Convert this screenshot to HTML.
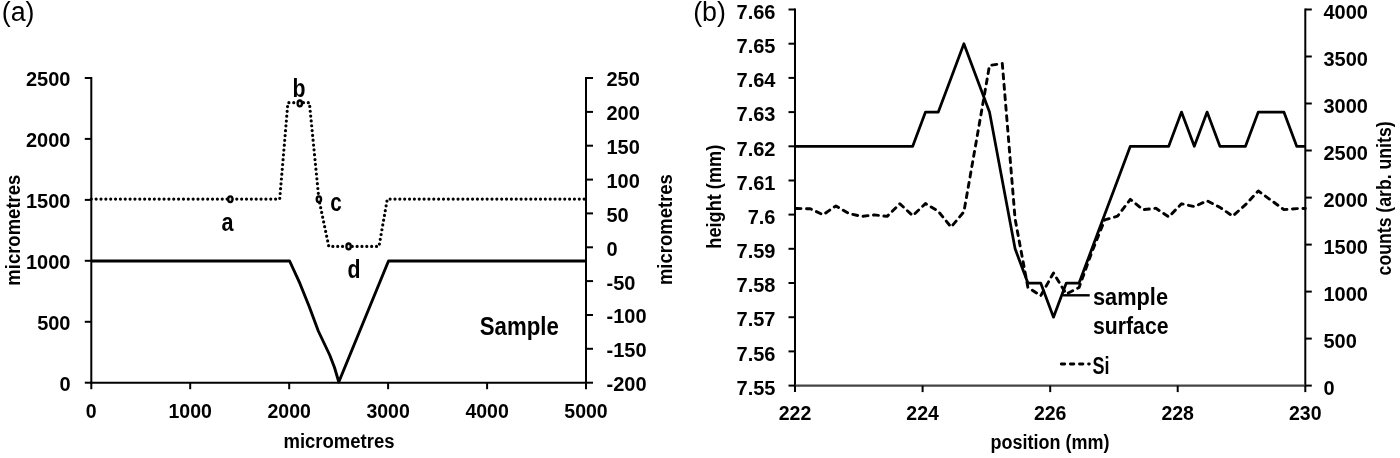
<!DOCTYPE html>
<html><head><meta charset="utf-8"><title>Figure</title>
<style>html,body{margin:0;padding:0;background:#fff;width:1400px;height:458px;overflow:hidden}
text{font-family:"Liberation Sans", sans-serif;fill:#000}</style></head>
<body><div style="will-change:transform;width:1400px;height:458px;background:#fff"><svg width="1400" height="458" viewBox="0 0 1400 458" style="display:block"><line x1="91.3" y1="77.0" x2="91.3" y2="383.7" stroke="#000" stroke-width="2" />
<line x1="586.0" y1="77.0" x2="586.0" y2="383.7" stroke="#000" stroke-width="2" />
<line x1="90.3" y1="382.7" x2="587.0" y2="382.7" stroke="#000" stroke-width="2" />
<line x1="84.8" y1="382.7" x2="91.3" y2="382.7" stroke="#000" stroke-width="2" />
<text x="70.5" y="391.1" font-size="20" text-anchor="end" font-weight="bold">0</text>
<line x1="84.8" y1="321.8" x2="91.3" y2="321.8" stroke="#000" stroke-width="2" />
<text x="70.5" y="330.2" font-size="20" text-anchor="end" font-weight="bold">500</text>
<line x1="84.8" y1="260.8" x2="91.3" y2="260.8" stroke="#000" stroke-width="2" />
<text x="70.5" y="269.2" font-size="20" text-anchor="end" font-weight="bold">1000</text>
<line x1="84.8" y1="199.9" x2="91.3" y2="199.9" stroke="#000" stroke-width="2" />
<text x="70.5" y="208.3" font-size="20" text-anchor="end" font-weight="bold">1500</text>
<line x1="84.8" y1="138.9" x2="91.3" y2="138.9" stroke="#000" stroke-width="2" />
<text x="70.5" y="147.3" font-size="20" text-anchor="end" font-weight="bold">2000</text>
<line x1="84.8" y1="78.0" x2="91.3" y2="78.0" stroke="#000" stroke-width="2" />
<text x="70.5" y="86.4" font-size="20" text-anchor="end" font-weight="bold">2500</text>
<line x1="586.0" y1="382.7" x2="593.0" y2="382.7" stroke="#000" stroke-width="2" />
<text x="606.5" y="391.1" font-size="20" text-anchor="start" font-weight="bold">-200</text>
<line x1="586.0" y1="348.8" x2="593.0" y2="348.8" stroke="#000" stroke-width="2" />
<text x="606.5" y="357.2" font-size="20" text-anchor="start" font-weight="bold">-150</text>
<line x1="586.0" y1="315.0" x2="593.0" y2="315.0" stroke="#000" stroke-width="2" />
<text x="606.5" y="323.4" font-size="20" text-anchor="start" font-weight="bold">-100</text>
<line x1="586.0" y1="281.1" x2="593.0" y2="281.1" stroke="#000" stroke-width="2" />
<text x="606.5" y="289.5" font-size="20" text-anchor="start" font-weight="bold">-50</text>
<line x1="586.0" y1="247.3" x2="593.0" y2="247.3" stroke="#000" stroke-width="2" />
<text x="606.5" y="255.7" font-size="20" text-anchor="start" font-weight="bold">0</text>
<line x1="586.0" y1="213.4" x2="593.0" y2="213.4" stroke="#000" stroke-width="2" />
<text x="606.5" y="221.8" font-size="20" text-anchor="start" font-weight="bold">50</text>
<line x1="586.0" y1="179.6" x2="593.0" y2="179.6" stroke="#000" stroke-width="2" />
<text x="606.5" y="188.0" font-size="20" text-anchor="start" font-weight="bold">100</text>
<line x1="586.0" y1="145.7" x2="593.0" y2="145.7" stroke="#000" stroke-width="2" />
<text x="606.5" y="154.1" font-size="20" text-anchor="start" font-weight="bold">150</text>
<line x1="586.0" y1="111.9" x2="593.0" y2="111.9" stroke="#000" stroke-width="2" />
<text x="606.5" y="120.3" font-size="20" text-anchor="start" font-weight="bold">200</text>
<line x1="586.0" y1="78.0" x2="593.0" y2="78.0" stroke="#000" stroke-width="2" />
<text x="606.5" y="86.4" font-size="20" text-anchor="start" font-weight="bold">250</text>
<line x1="91.3" y1="382.7" x2="91.3" y2="389.2" stroke="#000" stroke-width="2" />
<text x="91.3" y="418.3" font-size="19.5" text-anchor="middle" font-weight="bold">0</text>
<line x1="190.2" y1="382.7" x2="190.2" y2="389.2" stroke="#000" stroke-width="2" />
<text x="190.2" y="418.3" font-size="19.5" text-anchor="middle" font-weight="bold">1000</text>
<line x1="289.2" y1="382.7" x2="289.2" y2="389.2" stroke="#000" stroke-width="2" />
<text x="289.2" y="418.3" font-size="19.5" text-anchor="middle" font-weight="bold">2000</text>
<line x1="388.1" y1="382.7" x2="388.1" y2="389.2" stroke="#000" stroke-width="2" />
<text x="388.1" y="418.3" font-size="19.5" text-anchor="middle" font-weight="bold">3000</text>
<line x1="487.1" y1="382.7" x2="487.1" y2="389.2" stroke="#000" stroke-width="2" />
<text x="487.1" y="418.3" font-size="19.5" text-anchor="middle" font-weight="bold">4000</text>
<line x1="586.0" y1="382.7" x2="586.0" y2="389.2" stroke="#000" stroke-width="2" />
<text x="586.0" y="418.3" font-size="19.5" text-anchor="middle" font-weight="bold">5000</text>
<text x="339.0" y="447.8" font-size="19.5" text-anchor="middle" font-weight="bold" textLength="111.0" lengthAdjust="spacingAndGlyphs">micrometres</text>
<text x="20.4" y="230.2" font-size="19.5" text-anchor="middle" font-weight="bold" textLength="111.0" lengthAdjust="spacingAndGlyphs" transform="rotate(-90 20.4 230.2)">micrometres</text>
<text x="672.0" y="229.6" font-size="19.5" text-anchor="middle" font-weight="bold" textLength="111.0" lengthAdjust="spacingAndGlyphs" transform="rotate(-90 672.0 229.6)">micrometres</text>
<polyline points="91.3,261.0 289.6,261.0 299.8,283.2 309.0,306.0 318.3,331.0 324.0,343.0 329.7,355.0 334.5,367.5 338.8,382.0 388.5,261.0 586.0,261.0" fill="none" stroke="#000" stroke-width="2.9" stroke-linejoin="round" />
<polyline points="91.3,199.1 279.7,199.1 287.9,102.7 309.4,102.7 318.9,199.2 328.8,246.4 379.0,246.4 387.3,199.1 586.0,199.1" fill="none" stroke="#000" stroke-width="3.2" stroke-linejoin="round" stroke-dasharray="0 4.85" stroke-linecap="round"/>
<ellipse cx="230.3" cy="199.3" rx="2.2" ry="2.9" fill="#ddd" stroke="#000" stroke-width="2.3"/>
<ellipse cx="299.8" cy="103.4" rx="2.2" ry="2.9" fill="#ddd" stroke="#000" stroke-width="2.3"/>
<ellipse cx="318.9" cy="199.2" rx="2.2" ry="2.9" fill="#ddd" stroke="#000" stroke-width="2.3"/>
<ellipse cx="348.6" cy="246.4" rx="2.2" ry="2.9" fill="#ddd" stroke="#000" stroke-width="2.3"/>
<text x="227.5" y="230.6" font-size="25" text-anchor="middle" font-weight="bold" textLength="12.0" lengthAdjust="spacingAndGlyphs">a</text>
<text x="299.1" y="96.9" font-size="25" text-anchor="middle" font-weight="bold" textLength="13.0" lengthAdjust="spacingAndGlyphs">b</text>
<text x="336.1" y="211.4" font-size="25" text-anchor="middle" font-weight="bold" textLength="11.5" lengthAdjust="spacingAndGlyphs">c</text>
<text x="354.1" y="278.1" font-size="25" text-anchor="middle" font-weight="bold" textLength="13.0" lengthAdjust="spacingAndGlyphs">d</text>
<text x="519.3" y="334.5" font-size="25" text-anchor="middle" font-weight="bold" textLength="79.0" lengthAdjust="spacingAndGlyphs">Sample</text>
<text x="1.8" y="21.3" font-size="26.8" text-anchor="start" font-weight="normal">(a)</text>
<line x1="795.0" y1="8.5" x2="795.0" y2="386.6" stroke="#000" stroke-width="2" />
<line x1="1305.3" y1="8.5" x2="1305.3" y2="386.6" stroke="#000" stroke-width="2" />
<line x1="795.0" y1="385.6" x2="1305.3" y2="385.6" stroke="#444" stroke-width="2.2" />
<line x1="788.5" y1="385.6" x2="795.0" y2="385.6" stroke="#000" stroke-width="2" />
<text x="775.5" y="394.8" font-size="20" text-anchor="end" font-weight="bold">7.55</text>
<line x1="788.5" y1="351.4" x2="795.0" y2="351.4" stroke="#000" stroke-width="2" />
<text x="775.5" y="360.6" font-size="20" text-anchor="end" font-weight="bold">7.56</text>
<line x1="788.5" y1="317.2" x2="795.0" y2="317.2" stroke="#000" stroke-width="2" />
<text x="775.5" y="326.4" font-size="20" text-anchor="end" font-weight="bold">7.57</text>
<line x1="788.5" y1="283.0" x2="795.0" y2="283.0" stroke="#000" stroke-width="2" />
<text x="775.5" y="292.2" font-size="20" text-anchor="end" font-weight="bold">7.58</text>
<line x1="788.5" y1="248.8" x2="795.0" y2="248.8" stroke="#000" stroke-width="2" />
<text x="775.5" y="258.0" font-size="20" text-anchor="end" font-weight="bold">7.59</text>
<line x1="788.5" y1="214.6" x2="795.0" y2="214.6" stroke="#000" stroke-width="2" />
<text x="775.5" y="223.8" font-size="20" text-anchor="end" font-weight="bold">7.6</text>
<line x1="788.5" y1="180.5" x2="795.0" y2="180.5" stroke="#000" stroke-width="2" />
<text x="775.5" y="189.7" font-size="20" text-anchor="end" font-weight="bold">7.61</text>
<line x1="788.5" y1="146.3" x2="795.0" y2="146.3" stroke="#000" stroke-width="2" />
<text x="775.5" y="155.5" font-size="20" text-anchor="end" font-weight="bold">7.62</text>
<line x1="788.5" y1="112.1" x2="795.0" y2="112.1" stroke="#000" stroke-width="2" />
<text x="775.5" y="121.3" font-size="20" text-anchor="end" font-weight="bold">7.63</text>
<line x1="788.5" y1="77.9" x2="795.0" y2="77.9" stroke="#000" stroke-width="2" />
<text x="775.5" y="87.1" font-size="20" text-anchor="end" font-weight="bold">7.64</text>
<line x1="788.5" y1="43.7" x2="795.0" y2="43.7" stroke="#000" stroke-width="2" />
<text x="775.5" y="52.9" font-size="20" text-anchor="end" font-weight="bold">7.65</text>
<line x1="788.5" y1="9.5" x2="795.0" y2="9.5" stroke="#000" stroke-width="2" />
<text x="775.5" y="18.7" font-size="20" text-anchor="end" font-weight="bold">7.66</text>
<line x1="1305.3" y1="385.6" x2="1311.8" y2="385.6" stroke="#000" stroke-width="2" />
<text x="1323.5" y="394.8" font-size="20" text-anchor="start" font-weight="bold">0</text>
<line x1="1305.3" y1="338.6" x2="1311.8" y2="338.6" stroke="#000" stroke-width="2" />
<text x="1323.5" y="347.8" font-size="20" text-anchor="start" font-weight="bold">500</text>
<line x1="1305.3" y1="291.6" x2="1311.8" y2="291.6" stroke="#000" stroke-width="2" />
<text x="1323.5" y="300.8" font-size="20" text-anchor="start" font-weight="bold">1000</text>
<line x1="1305.3" y1="244.6" x2="1311.8" y2="244.6" stroke="#000" stroke-width="2" />
<text x="1323.5" y="253.8" font-size="20" text-anchor="start" font-weight="bold">1500</text>
<line x1="1305.3" y1="197.6" x2="1311.8" y2="197.6" stroke="#000" stroke-width="2" />
<text x="1323.5" y="206.8" font-size="20" text-anchor="start" font-weight="bold">2000</text>
<line x1="1305.3" y1="150.5" x2="1311.8" y2="150.5" stroke="#000" stroke-width="2" />
<text x="1323.5" y="159.7" font-size="20" text-anchor="start" font-weight="bold">2500</text>
<line x1="1305.3" y1="103.5" x2="1311.8" y2="103.5" stroke="#000" stroke-width="2" />
<text x="1323.5" y="112.7" font-size="20" text-anchor="start" font-weight="bold">3000</text>
<line x1="1305.3" y1="56.5" x2="1311.8" y2="56.5" stroke="#000" stroke-width="2" />
<text x="1323.5" y="65.7" font-size="20" text-anchor="start" font-weight="bold">3500</text>
<line x1="1305.3" y1="9.5" x2="1311.8" y2="9.5" stroke="#000" stroke-width="2" />
<text x="1323.5" y="18.7" font-size="20" text-anchor="start" font-weight="bold">4000</text>
<line x1="795.0" y1="385.6" x2="795.0" y2="392.1" stroke="#000" stroke-width="2" />
<text x="795.0" y="420.3" font-size="19.5" text-anchor="middle" font-weight="bold">222</text>
<line x1="922.6" y1="385.6" x2="922.6" y2="392.1" stroke="#000" stroke-width="2" />
<text x="922.6" y="420.3" font-size="19.5" text-anchor="middle" font-weight="bold">224</text>
<line x1="1050.2" y1="385.6" x2="1050.2" y2="392.1" stroke="#000" stroke-width="2" />
<text x="1050.2" y="420.3" font-size="19.5" text-anchor="middle" font-weight="bold">226</text>
<line x1="1177.7" y1="385.6" x2="1177.7" y2="392.1" stroke="#000" stroke-width="2" />
<text x="1177.7" y="420.3" font-size="19.5" text-anchor="middle" font-weight="bold">228</text>
<line x1="1305.3" y1="385.6" x2="1305.3" y2="392.1" stroke="#000" stroke-width="2" />
<text x="1305.3" y="420.3" font-size="19.5" text-anchor="middle" font-weight="bold">230</text>
<text x="1050.0" y="448.9" font-size="19.5" text-anchor="middle" font-weight="bold" textLength="119.0" lengthAdjust="spacingAndGlyphs">position (mm)</text>
<text x="720.6" y="196.7" font-size="19.5" text-anchor="middle" font-weight="bold" textLength="104.0" lengthAdjust="spacingAndGlyphs" transform="rotate(-90 720.6 196.7)">height (mm)</text>
<text x="1391.4" y="198.4" font-size="19.5" text-anchor="middle" font-weight="bold" textLength="154.0" lengthAdjust="spacingAndGlyphs" transform="rotate(-90 1391.4 198.4)">counts (arb. units)</text>
<text x="693.2" y="21.3" font-size="26.8" text-anchor="start" font-weight="normal">(b)</text>
<polyline points="795.0,146.3 797.5,146.3 810.3,146.3 823.1,146.3 835.9,146.3 848.7,146.3 861.5,146.3 874.3,146.3 887.1,146.3 899.9,146.3 912.7,146.3 925.5,112.1 938.3,112.1 951.1,77.9 963.9,43.7 976.7,77.9 989.5,112.1 1002.3,180.5 1015.1,248.8 1027.9,283.0 1040.7,283.0 1053.5,317.2 1066.3,283.0 1079.1,283.0 1091.9,248.8 1104.7,214.6 1117.5,180.5 1130.3,146.3 1143.1,146.3 1155.9,146.3 1168.7,146.3 1181.5,112.1 1194.3,146.3 1207.1,112.1 1219.9,146.3 1232.7,146.3 1245.5,146.3 1258.3,112.1 1271.1,112.1 1283.9,112.1 1296.7,146.3 1305.3,146.3" fill="none" stroke="#000" stroke-width="2.75" stroke-linejoin="round" />
<polyline points="796.0,208.5 797.5,208.5 810.3,208.8 823.1,214.7 835.9,205.9 848.7,213.5 861.5,216.4 874.3,214.9 887.1,216.4 899.9,203.7 912.7,215.7 925.5,203.6 938.3,211.3 951.1,227.1 963.9,211.8 976.7,139.0 989.5,65.5 1002.3,63.5 1015.1,219.0 1027.9,287.4 1040.7,295.8 1053.5,273.0 1066.3,294.0 1079.1,287.4 1091.9,252.0 1104.7,219.9 1117.5,216.2 1130.3,199.4 1143.1,209.7 1155.9,208.3 1168.7,216.9 1181.5,203.8 1194.3,206.6 1207.1,200.8 1219.9,207.4 1232.7,216.1 1245.5,204.7 1258.3,191.0 1271.1,200.3 1283.9,209.6 1296.7,208.6 1305.3,208.5" fill="none" stroke="#000" stroke-width="2.9" stroke-linejoin="round" stroke-dasharray="5 5.5" stroke-linecap="round"/>
<line x1="1063.0" y1="295.3" x2="1089.7" y2="295.3" stroke="#000" stroke-width="2.4" />
<text x="1093.0" y="304.9" font-size="23.5" text-anchor="start" font-weight="bold" textLength="75.0" lengthAdjust="spacingAndGlyphs">sample</text>
<text x="1093.0" y="334.4" font-size="23.5" text-anchor="start" font-weight="bold" textLength="75.5" lengthAdjust="spacingAndGlyphs">surface</text>
<line x1="1061.3" y1="364.0" x2="1089.3" y2="364.0" stroke="#000" stroke-width="2.9" stroke-dasharray="3.4 5.7" stroke-linecap="round"/>
<text x="1092.5" y="374.4" font-size="23.5" text-anchor="start" font-weight="bold" textLength="17.0" lengthAdjust="spacingAndGlyphs">Si</text></svg></div></body></html>
